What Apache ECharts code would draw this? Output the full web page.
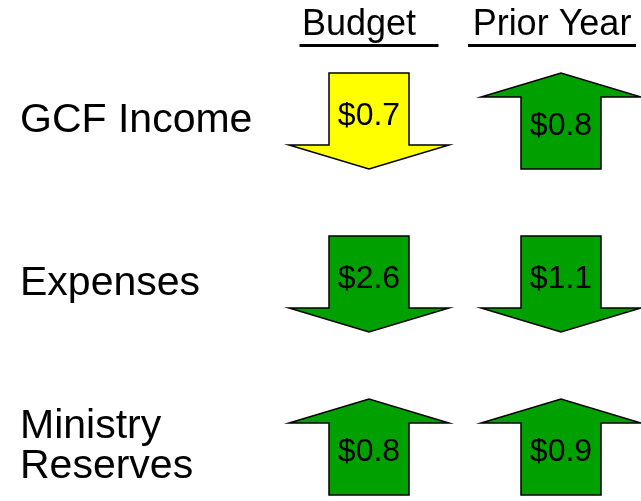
<!DOCTYPE html>
<html>
<head>
<meta charset="utf-8">
<script src="https://cdn.jsdelivr.net/npm/echarts@6/dist/echarts.min.js"></script>
<style>
  html, body { margin: 0; padding: 0; background: #fff; }
  #chart { width: 641px; height: 501px; }
</style>
</head>
<body>
<div id="chart"></div>
<script>
// row labels (left) and column headers (top)
const rows = ['GCF Income', 'Expenses', 'Ministry\nReserves']
const columns = ['Budget', 'Prior Year']

// variance in $ millions, direction of the arrow and its status
const budgetValues = [0.7, 2.6, 0.8]
const budgetDirections = ['down', 'down', 'up']
const budgetStatus = ['warn', 'good', 'good']

const priorValues = [0.8, 1.1, 0.9]
const priorDirections = ['up', 'down', 'up']
const priorStatus = ['good', 'good', 'good']

const statusColors = { good: '#00a000', warn: '#ffff00' }
const FONT = '"Liberation Sans", Arial, sans-serif'

// build cells for the custom series
const cells = []
rows.forEach((row, i) => {
    cells.push({ col: columns[0], row, value: budgetValues[i], dir: budgetDirections[i], status: budgetStatus[i] })
    cells.push({ col: columns[1], row, value: priorValues[i], dir: priorDirections[i], status: priorStatus[i] })
})

// arrow outline, pointing down (y flipped for up)
const arrowShape = [[-40, -48], [40, -48], [40, 24], [80, 24], [0, 48], [-80, 24], [-40, 24]]

const renderArrow = (params, api) => {
    const cell = cells[params.dataIndex]
    const [cx, cy] = api.coord([api.value(0), api.value(1)])
    const flip = cell.dir === 'up' ? -1 : 1
    const points = arrowShape.map(([x, y]) => [cx + x, cy + y * flip])
    return {
        type: 'group',
        children: [
            {
                type: 'polygon',
                shape: { points },
                style: { fill: statusColors[cell.status], stroke: '#000', lineWidth: 1.5 }
            },
            {
                type: 'text',
                x: cx,
                y: cy - 5 * flip,
                style: {
                    text: '$' + cell.value.toFixed(1),
                    font: '32px ' + FONT,
                    fill: '#000',
                    align: 'center',
                    verticalAlign: 'middle'
                }
            }
        ]
    }
}

// header labels: the slide's "Prior Year" box sits a bit left of its arrow
const xAxisData = columns.map((c, i) => i === 1 ? { value: c, textStyle: { padding: [0, 18, 0, 0] } } : c)
// the two-line row label sits a bit higher than its arrows
const yAxisData = rows.map((r, i) => i === 2 ? { value: r, textStyle: { align: 'left', padding: [0, 0, 16, 0] } } : r)

const chart = echarts.init(document.getElementById('chart'))

const option = {
    backgroundColor: '#fff',
    animation: false,
    // grid runs past the right / bottom edge so the last arrows get clipped like the slide
    grid: { left: 273, top: 39.5, width: 384, height: 489, outerBoundsMode: 'none', containLabel: false },
    xAxis: {
        type: 'category',
        position: 'top',
        data: xAxisData,
        axisLine: { show: false },
        axisTick: { show: false },
        splitLine: { show: false },
        axisLabel: {
            margin: -7.5,
            interval: 0,
            formatter: (v) => v === 'Budget' ? '{t|Budget  }\n{u1| }' : '{t|' + v + '}\n{u2| }',
            rich: {
                t: { fontSize: 36, fontFamily: FONT, color: '#000', lineHeight: 37 },
                u1: { width: 139, height: 3, lineHeight: 3, backgroundColor: '#000' },
                u2: { width: 168, height: 3, lineHeight: 3, backgroundColor: '#000' }
            }
        }
    },
    yAxis: {
        type: 'category',
        inverse: true,
        data: yAxisData,
        axisLine: { show: false },
        axisTick: { show: false },
        splitLine: { show: false },
        axisLabel: {
            align: 'left',
            margin: 253,
            fontSize: 41,
            lineHeight: 40,
            fontFamily: FONT,
            color: '#000'
        }
    },
    series: [{
        type: 'custom',
        clip: false,
        renderItem: renderArrow,
        data: cells.map(c => [c.col, c.row, c.value])
    }]
}

chart.setOption(option)
window.addEventListener('resize', () => chart.resize())
</script>
</body>
</html>
